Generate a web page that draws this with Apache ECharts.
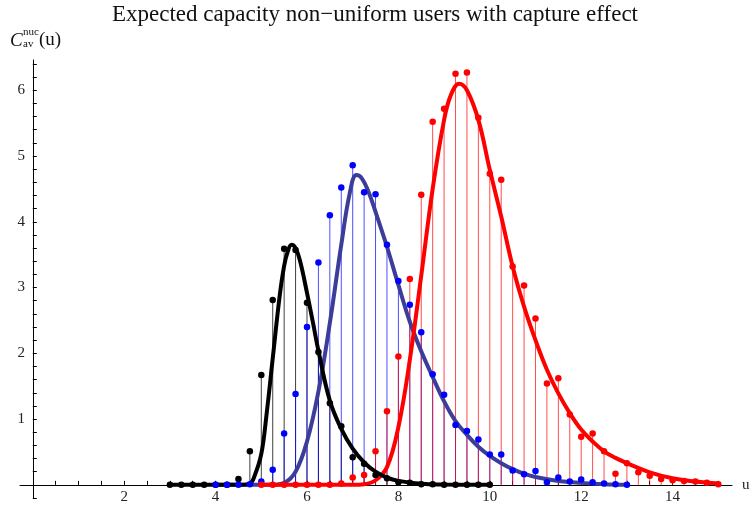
<!DOCTYPE html>
<html>
<head>
<meta charset="utf-8">
<title>Expected capacity non-uniform users with capture effect</title>
<script src="https://cdn.jsdelivr.net/npm/echarts@6/dist/echarts.min.js"></script>
<style>
  html, body { margin: 0; padding: 0; background: #fff; }
  #chart { width: 750px; height: 514px; }
</style>
</head>
<body>
<div id="chart"></div>
<script>
// stem points (sampled values)
const blackX = [3, 3.25, 3.5, 3.75, 4, 4.25, 4.5, 4.75, 5, 5.25, 5.5, 5.75, 6, 6.25, 6.5, 6.75, 7, 7.25, 7.5, 7.75, 8, 8.25, 8.5, 8.75, 9, 9.25, 9.5, 9.75, 10];
const blackY = [0, 0, 0, 0, 0, 0, 0.09, 0.51, 1.67, 2.81, 3.59, 3.57, 2.77, 2.02, 1.24, 0.89, 0.42, 0.32, 0.15, 0.10, 0.04, 0.03, 0.01, 0.01, 0, 0, 0, 0, 0];

const blueX = [4, 4.25, 4.5, 4.75, 5, 5.25, 5.5, 5.75, 6, 6.25, 6.5, 6.75, 7, 7.25, 7.5, 7.75, 8, 8.25, 8.5, 8.75, 9, 9.25, 9.5, 9.75, 10, 10.25, 10.5, 10.75, 11, 11.25, 11.5, 11.75, 12, 12.25, 12.5, 12.75, 13];
const blueY = [0, 0, 0, 0.01, 0.05, 0.23, 0.78, 1.38, 2.40, 3.38, 4.10, 4.52, 4.86, 4.45, 4.42, 3.65, 3.10, 2.74, 2.32, 1.68, 1.37, 0.91, 0.82, 0.69, 0.46, 0.46, 0.22, 0.16, 0.21, 0.04, 0.11, 0.05, 0.08, 0.04, 0.02, 0.01, 0];

const redX = [5, 5.25, 5.5, 5.75, 6, 6.25, 6.5, 6.75, 7, 7.25, 7.5, 7.75, 8, 8.25, 8.5, 8.75, 9, 9.25, 9.5, 9.75, 10, 10.25, 10.5, 10.75, 11, 11.25, 11.5, 11.75, 12, 12.25, 12.5, 12.75, 13, 13.25, 13.5, 13.75, 14, 14.25, 14.5, 14.75, 15];
const redY = [0, 0, 0, 0, 0, 0, 0, 0.02, 0.11, 0.15, 0.51, 1.12, 1.95, 3.13, 4.41, 5.52, 5.72, 6.25, 6.27, 5.58, 4.73, 4.64, 3.32, 3.03, 2.53, 1.54, 1.62, 1.07, 0.73, 0.78, 0.51, 0.17, 0.33, 0.19, 0.14, 0.09, 0.07, 0.06, 0.05, 0.03, 0.01];

// fitted curves
const blackFitX = [3, 4.5, 4.75, 4.85, 5, 5.11, 5.25, 5.4, 5.5, 5.58, 5.66, 5.75, 5.85, 6, 6.13, 6.25, 6.5, 6.75, 7, 7.25, 7.5, 7.75, 8, 8.5, 9, 10];
const blackFitY = [0, 0, 0.02, 0.13, 0.47, 1.04, 1.92, 2.86, 3.33, 3.55, 3.65, 3.60, 3.40, 2.92, 2.47, 2.04, 1.28, 0.85, 0.55, 0.34, 0.20, 0.11, 0.06, 0.015, 0.005, 0];

const blueFitX = [4, 5.25, 5.5, 5.75, 6, 6.25, 6.5, 6.75, 6.94, 7.08, 7.2, 7.35, 7.5, 7.75, 8, 8.25, 8.5, 8.75, 9, 9.25, 9.5, 9.75, 10, 10.25, 10.5, 10.75, 11, 11.5, 12, 12.5, 13];
const blueFitY = [0, 0, 0.03, 0.20, 0.66, 1.42, 2.46, 3.65, 4.45, 4.71, 4.66, 4.45, 4.15, 3.62, 3.04, 2.48, 2.03, 1.64, 1.27, 0.97, 0.76, 0.58, 0.44, 0.33, 0.24, 0.17, 0.12, 0.06, 0.03, 0.01, 0];

const redFitX = [5, 7, 7.25, 7.5, 7.75, 8, 8.25, 8.5, 8.75, 9, 9.15, 9.33, 9.5, 9.75, 10, 10.25, 10.5, 10.75, 11, 11.25, 11.5, 11.75, 12, 12.25, 12.5, 12.75, 13, 13.5, 14, 14.5, 15];
const redFitY = [0, 0, 0.01, 0.07, 0.27, 0.88, 1.90, 3.18, 4.50, 5.55, 5.93, 6.10, 6.00, 5.55, 4.79, 4.08, 3.32, 2.71, 2.20, 1.75, 1.39, 1.09, 0.84, 0.66, 0.51, 0.41, 0.33, 0.19, 0.10, 0.05, 0.02];

// axis ticks
const xTickLabels = [2, 4, 6, 8, 10, 12, 14];
const xTicks = [0.5, 1, 1.5, 2, 2.5, 3, 3.5, 4, 4.5, 5, 5.5, 6, 6.5, 7, 7.5, 8, 8.5, 9, 9.5, 10, 10.5, 11, 11.5, 12, 12.5, 13, 13.5, 14, 14.5, 15];
const yTickLabels = [1, 2, 3, 4, 5, 6];
const yTicks = [-0.2, 0.2, 0.4, 0.6, 0.8, 1, 1.2, 1.4, 1.6, 1.8, 2, 2.2, 2.4, 2.6, 2.8, 3, 3.2, 3.4, 3.6, 3.8, 4, 4.2, 4.4, 4.6, 4.8, 5, 5.2, 5.4, 5.6, 5.8, 6, 6.2, 6.4];

const SERIF = '"Liberation Serif", "DejaVu Serif", serif';

const zip = (xs, ys) => xs.map((x, i) => [x, ys[i]]);

function stemSeries(xs, ys, color, opacity) {
  return {
    type: 'custom',
    z: 1,
    silent: true,
    data: zip(xs, ys),
    encode: { x: 0, y: 1 },
    renderItem(params, api) {
      const p0 = api.coord([api.value(0), 0]);
      const p1 = api.coord([api.value(0), api.value(1)]);
      return {
        type: 'line',
        shape: { x1: p0[0], y1: p0[1], x2: p1[0], y2: p1[1] },
        style: { stroke: color, lineWidth: 1, opacity: opacity },
      };
    },
  };
}

function dotSeries(xs, ys, color) {
  return {
    type: 'scatter',
    z: 6,
    silent: true,
    symbol: 'circle',
    symbolSize: 6.5,
    data: zip(xs, ys),
    itemStyle: { color: color, opacity: 1 },
  };
}

function fitSeries(xs, ys, color, z) {
  return {
    type: 'line',
    z: z,
    silent: true,
    smooth: 0.4,
    showSymbol: false,
    data: zip(xs, ys),
    lineStyle: { color: color, width: 4 },
  };
}

const chart = echarts.init(document.getElementById('chart'));

chart.setOption({
  animation: false,
  backgroundColor: '#fff',
  title: {
    text: 'Expected capacity non\u2212uniform users with capture effect',
    left: 'center',
    top: -2,
    textStyle: { fontFamily: SERIF, fontSize: 23, fontWeight: 'normal', color: '#111' },
  },
  grid: { left: 20, right: 18, top: 60, bottom: 16, outerBoundsMode: 'none' },
  xAxis: {
    type: 'value',
    min: -0.28,
    max: 15.3,
    name: 'u',
    nameLocation: 'end',
    nameGap: 10,
    nameTextStyle: { fontFamily: SERIF, fontSize: 15, color: '#222', verticalAlign: 'middle' },
    axisLine: { onZero: true, lineStyle: { color: '#000', width: 1 } },
    axisTick: { inside: true, length: 4, customValues: xTicks, lineStyle: { color: '#000' } },
    // labels sit at the grid edge, so pull them up to the zero line
    axisLabel: { customValues: xTickLabels, margin: -8, fontFamily: SERIF, fontSize: 15, color: '#222' },
    splitLine: { show: false },
  },
  yAxis: {
    type: 'value',
    min: -0.2,
    max: 6.46,
    axisLine: { onZero: true, lineStyle: { color: '#000', width: 1 } },
    axisTick: { inside: true, length: 4, customValues: yTicks, lineStyle: { color: '#000' } },
    axisLabel: { customValues: yTickLabels, margin: -5, fontFamily: SERIF, fontSize: 15, color: '#222' },
    splitLine: { show: false },
  },
  graphic: [
    { type: 'text', left: 10, top: 31, style: { text: 'C', font: 'italic 19px ' + SERIF, fill: '#111' } },
    { type: 'text', left: 23, top: 27, style: { text: 'nuc', font: '11px ' + SERIF, fill: '#111' } },
    { type: 'text', left: 23, top: 39, style: { text: 'av', font: '11px ' + SERIF, fill: '#111' } },
    { type: 'text', left: 39, top: 31, style: { text: '(u)', font: '19px ' + SERIF, fill: '#111' } },
  ],
  series: [
    stemSeries(blackX, blackY, '#000000', 0.75),
    stemSeries(blueX, blueY, '#0000ff', 0.7),
    stemSeries(redX, redY, '#ff0000', 0.7),
    fitSeries(blueFitX, blueFitY, '#3c3c9a', 3),
    fitSeries(redFitX, redFitY, '#ff0000', 4),
    fitSeries(blackFitX, blackFitY, '#000000', 5),
    dotSeries(blackX, blackY, '#000000'),
    dotSeries(blueX, blueY, '#0000ff'),
    dotSeries(redX, redY, '#ff0000'),
  ],
});
</script>
</body>
</html>
